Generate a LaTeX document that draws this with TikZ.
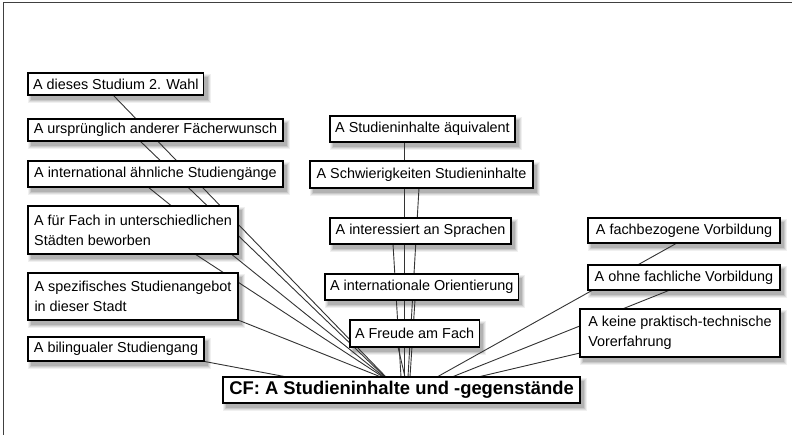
\documentclass[tikz,border=0pt]{standalone}
\usepackage{fontspec}
\setmainfont{Liberation Sans}
\usetikzlibrary{calc}
\pgfdeclarelayer{shadowlayer}
\pgfdeclarelayer{background}
\pgfsetlayers{shadowlayer,background,main}
\tikzset{
  box/.style={draw=black, line width=1.3pt, fill=white, rectangle, anchor=north west,
    align=left, inner xsep=5pt, inner ysep=0pt, outer sep=0pt,
    font=\fontsize{14.4}{20}\selectfont},
  cfbox/.style={box, inner xsep=6pt, font=\bfseries\fontsize{18.4}{22}\selectfont},
  link/.style={draw=black!80, line width=0.9pt},
  frame/.style={draw=black!75, line width=1.5pt}
}
\newcommand{\mkshadow}[1]{%
  \fill[black!6]  ($(#1.north west)+(0,1)$) rectangle ($(#1.south east)+(7,8)$);
  \fill[black!13] ($(#1.north west)+(1,2)$) rectangle ($(#1.south east)+(6,7)$);
  \fill[black!21] ($(#1.north west)+(2,3)$) rectangle ($(#1.south east)+(5,6)$);
  \fill[black!30] ($(#1.north west)+(3,4)$) rectangle ($(#1.south east)+(4,5)$);
}
\begin{document}
\begin{tikzpicture}[x=1pt,y=-1pt]
\useasboundingbox (0,0) rectangle (792,435);
\draw[frame] (3.7,435) -- (3.7,2.7) -- (792,2.7);

% left column
\node[box, minimum width=175pt, minimum height=22pt] (n1) at (28,73) {A dieses Studium 2. Wahl};
\node[box, minimum width=255pt, minimum height=22pt] (n2) at (28,119) {A ursprünglich anderer Fächerwunsch};
\node[box, minimum width=255pt, minimum height=26pt] (n3) at (28,161) {A international ähnliche Studiengänge};
\node[box, minimum width=210pt, minimum height=48pt] (n4) at (28,206) {A für Fach in unterschiedlichen\\Städten beworben};
\node[box, minimum width=210pt, minimum height=47pt] (n5) at (28,273) {A spezifisches Studienangebot\\in dieser Stadt};
\node[box, minimum width=176pt, minimum height=24pt] (n6) at (28,337) {A bilingualer Studiengang};

% middle column
\node[box, minimum width=185pt, minimum height=26pt] (m1) at (330,116) {A Studieninhalte äquivalent};
\node[box, minimum width=223pt, minimum height=27pt] (m2) at (310,161) {A Schwierigkeiten Studieninhalte};
\node[box, minimum width=181pt, minimum height=26pt] (m3) at (330,218) {A interessiert an Sprachen};
\node[box, minimum width=190pt, minimum height=26pt] (m4) at (325,274) {A internationale Orientierung};
\node[box, minimum width=129pt, minimum height=27pt] (m5) at (350,320) {A Freude am Fach};

% right column
\node[box, minimum width=192pt, minimum height=25pt] (r1) at (588,218) {A fachbezogene Vorbildung};
\node[box, minimum width=192pt, minimum height=25pt] (r2) at (588,265) {A ohne fachliche Vorbildung};
\node[box, minimum width=200pt, minimum height=48pt] (r3) at (580,309) {A keine praktisch-technische\\Vorerfahrung};

% central node
\node[cfbox, minimum width=357pt, minimum height=26pt] (cf) at (223,377) {CF: A Studieninhalte und -gegenstände};

\begin{pgfonlayer}{shadowlayer}
\foreach \n in {n1,n2,n3,n4,n5,n6,m1,m2,m3,m4,m5,r1,r2,r3,cf}{\mkshadow{\n}}
\end{pgfonlayer}

\begin{pgfonlayer}{background}
\draw[link] ($(n1.south west)+(85,0)$) -- ($(cf.north west)+(163,0)$);
\draw[link] ($(n2.south west)+(112,0)$) -- ($(cf.north west)+(162,0)$);
\draw[link] ($(n3.south west)+(120,0)$) -- ($(cf.north west)+(161,0)$);
\draw[link] ($(n4.south west)+(167,0)$) -- ($(cf.north west)+(160,0)$);
\draw[link] (n5.south east) -- ($(cf.north west)+(158,0)$);
\draw[link] ($(n6.south east)+(-2,0)$) -- ($(cf.north west)+(64,0)$);
\draw[link] ($(m1.south west)+(74,0)$) -- ($(cf.north west)+(181,0)$);
\draw[link] ($(m2.south west)+(109,0)$) -- ($(cf.north west)+(185,0)$);
\draw[link] ($(m3.south west)+(63,0)$) -- ($(cf.north west)+(178,0)$);
\draw[link] ($(m4.south west)+(90,0)$) -- ($(cf.north west)+(187,0)$);
\draw[link] ($(m5.south west)+(48,0)$) -- ($(cf.north west)+(182,0)$);
\draw[link] ($(r1.south west)+(89,0)$) -- ($(cf.north west)+(214,0)$);
\draw[link] ($(r2.south west)+(82,0)$) -- ($(cf.north west)+(229,0)$);
\draw[link] ($(r3.south west)+(0,-4)$) -- ($(cf.north west)+(255,0)$);
\end{pgfonlayer}
\end{tikzpicture}
\end{document}
